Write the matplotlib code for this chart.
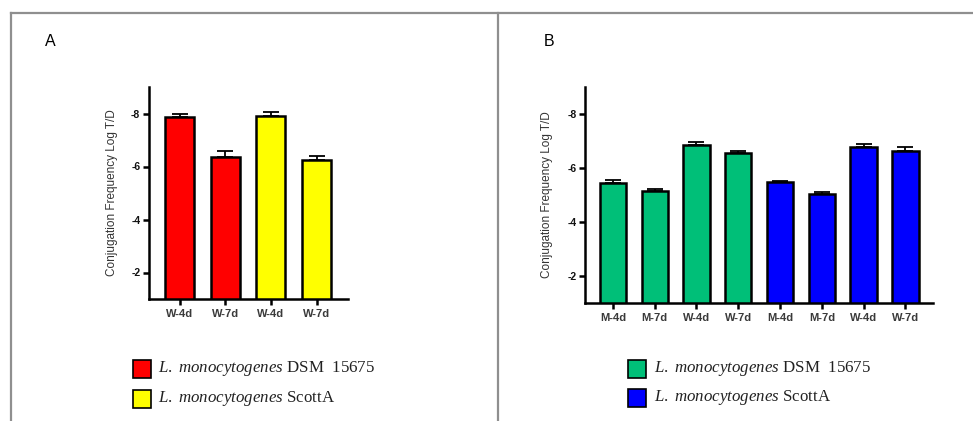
import matplotlib
matplotlib.use("Agg")
import matplotlib.pyplot as plt
from matplotlib.lines import Line2D
from matplotlib.patches import Rectangle
import numpy as np

plt.rcParams['mathtext.fontset'] = 'custom'
plt.rcParams['mathtext.it'] = 'Liberation Serif:italic'
plt.rcParams['mathtext.rm'] = 'Liberation Serif'
plt.rcParams['axes.unicode_minus'] = False

# ---- data ----
cats_a = ["W-4d", "W-7d", "W-4d", "W-7d"]
vals_a = [-7.87, -6.37, -7.89, -6.25]
err_a = [0.13, 0.21, 0.16, 0.16]
colors_a = ["#FF0000", "#FF0000", "#FFFF00", "#FFFF00"]

cats_b = ["M-4d", "M-7d", "W-4d", "W-7d", "M-4d", "M-7d", "W-4d", "W-7d"]
vals_b = [-5.44, -5.13, -6.86, -6.57, -5.46, -5.04, -6.79, -6.64]
err_b = [0.10, 0.09, 0.09, 0.06, 0.05, 0.05, 0.10, 0.15]
colors_b = ["#00BF78"] * 4 + ["#0000FF"] * 4

yticks = [-2, -4, -6, -8]
ytick_labels = ["-2", "-4", "-6", "-8"]
ylabel = "Conjugation Frequency Log T/D"

legend_a = [("#FF0000", r"$\mathit{L.\ monocytogenes}$ DSM  15675"),
            ("#FFFF00", r"$\mathit{L.\ monocytogenes}$ ScottA")]
legend_b = [("#00BF78", r"$\mathit{L.\ monocytogenes}$ DSM  15675"),
            ("#0000FF", r"$\mathit{L.\ monocytogenes}$ ScottA")]

W, H = 973, 421
fig = plt.figure(figsize=(W / 100, H / 100), dpi=100)
fig.patch.set_facecolor("white")


def px(x0, y0, x1, y1):
    # pixel box (left, top, right, bottom) -> figure fraction rect
    return [x0 / W, 1 - y1 / H, (x1 - x0) / W, (y1 - y0) / H]


def panel(rect, cats, vals, errs, colors, xlim, ylabel_x):
    ax = fig.add_axes(rect)
    x = np.arange(len(cats))
    ax.bar(x, vals, width=0.63, color=colors, edgecolor="black",
           linewidth=1.8, zorder=2)
    ax.errorbar(x, vals, yerr=[errs, [0] * len(errs)], fmt="none",
                ecolor="black", elinewidth=1.3, capsize=6, capthick=1.3,
                zorder=3)
    ax.set_ylim(-1, -9)
    ax.set_xlim(*xlim)
    ax.set_yticks(yticks)
    ax.set_yticklabels(ytick_labels, fontfamily="Liberation Sans",
                       fontweight="bold", fontsize=7.5, color="#111111")
    ax.set_xticks(x)
    ax.set_xticklabels(cats, fontfamily="Liberation Sans",
                       fontweight="bold", fontsize=8, color="#3a3a3a")
    ax.tick_params(axis="both", direction="out", length=4.3, width=1.8,
                   pad=2)
    ax.tick_params(axis="x", pad=3)
    for s in ["top", "right"]:
        ax.spines[s].set_visible(False)
    for s in ["left", "bottom"]:
        ax.spines[s].set_linewidth(1.8)
    ax.set_ylabel(ylabel, fontfamily="Liberation Sans", fontsize=8.5,
                  color="#333333", va="center")
    ax.yaxis.set_label_coords(ylabel_x, 0.5)
    ax.patch.set_alpha(0)
    return ax


panel(px(149, 87, 348, 299), cats_a, vals_a, err_a, colors_a,
      (-0.67, 3.69), -0.186)
panel(px(585.3, 87, 933, 302.7), cats_b, vals_b, err_b, colors_b,
      (-0.66, 7.66), -0.110)

# panel letters
fig.text(45 / W, 1 - 41 / H, "A", fontfamily="Liberation Sans",
         fontsize=11.5, va="center", ha="left")
fig.text(544 / W, 1 - 41 / H, "B", fontfamily="Liberation Sans",
         fontsize=11.5, va="center", ha="left")


def legend(x_patch, y_rows, entries):
    for (c, lab), yc in zip(entries, y_rows):
        fig.add_artist(Rectangle(((x_patch) / W, 1 - (yc + 9) / H),
                                 18 / W, 18 / H, transform=fig.transFigure,
                                 facecolor=c, edgecolor="black",
                                 linewidth=1.2))
        fig.text((x_patch + 25.5) / W, 1 - yc / H, lab,
                 fontfamily="Liberation Serif", fontsize=12.2,
                 va="center", ha="left", color="#222222")


legend(132.7, [368.5, 398.5], legend_a)
legend(628.3, [368.5, 397.5], legend_b)

# frame lines
fc = "#8f8f8f"
fig.add_artist(Line2D([11 / W, 1], [1 - 13.3 / H, 1 - 13.3 / H],
                      transform=fig.transFigure, color=fc, lw=1.6))
fig.add_artist(Line2D([11 / W, 11 / W], [0, 1 - 13.3 / H],
                      transform=fig.transFigure, color=fc, lw=1.6))
fig.add_artist(Line2D([498.3 / W, 498.3 / W], [0, 1 - 13.3 / H],
                      transform=fig.transFigure, color=fc, lw=1.6))

fig.savefig("out.png", dpi=100)
